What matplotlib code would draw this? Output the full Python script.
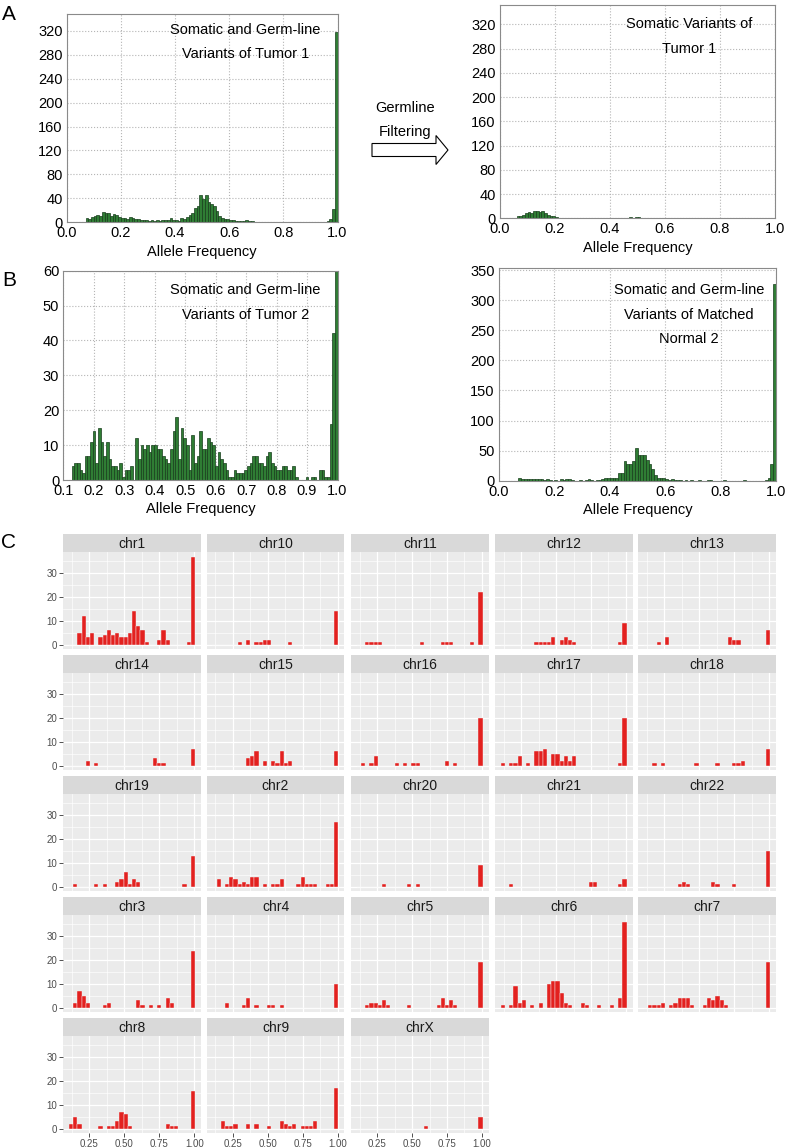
import numpy as np
import matplotlib
matplotlib.use("Agg")
import matplotlib.pyplot as plt
from matplotlib.patches import FancyArrow

plt.rcParams['font.family'] = ['Liberation Sans', 'DejaVu Sans']

# ---- panel A / B : allele frequency histograms (counts per bin) ----
tumor1_all = [0, 0, 0, 0, 0, 0, 0, 8, 6, 9,
              11, 12, 10, 17, 16, 15, 10, 14, 12, 9,
              8, 8, 6, 9, 8, 6, 6, 4, 4, 4,
              3, 4, 3, 4, 2, 4, 4, 4, 8, 4,
              4, 3, 8, 6, 9, 13, 16, 24, 28, 46,
              39, 45, 34, 30, 28, 19, 10, 8, 6, 6,
              4, 4, 3, 3, 2, 3, 4, 3, 2, 1,
              1, 0, 1, 1, 0, 1, 1, 0, 1, 1,
              0, 1, 1, 0, 1, 0, 1, 1, 0, 1,
              0, 1, 0, 1, 1, 1, 2, 5, 22, 318]

tumor1_somatic = [0, 0, 0, 0, 0, 0, 3, 4, 5, 8,
                  10, 8, 12, 12, 10, 12, 8, 5, 4, 3,
                  2, 1, 1, 0, 1, 1, 0, 1, 1, 0,
                  1, 0, 1, 1, 0, 1, 0, 1, 0, 1,
                  1, 0, 1, 0, 1, 0, 1, 2, 1, 2,
                  2, 1, 0, 1, 0, 0, 0, 0, 1, 0,
                  0, 0, 0, 1, 0, 0, 0, 0, 0, 0,
                  1, 0, 0, 0, 0, 0, 1, 0, 0, 0,
                  1, 0, 0, 0, 0, 1, 0, 0, 0, 0,
                  0, 1, 0, 0, 0, 0, 1, 0, 0, 0]

tumor2_all = [4, 5, 5, 3, 2, 7, 7, 11, 14, 5,
              15, 11, 7, 11, 6, 4, 4, 3, 5, 1,
              3, 3, 4, 0, 12, 6, 10, 9, 10, 8,
              10, 10, 9, 9, 7, 6, 5, 9, 14, 18,
              6, 15, 12, 10, 3, 13, 5, 7, 14, 9,
              9, 12, 11, 10, 4, 8, 6, 5, 3, 1,
              1, 3, 2, 2, 2, 3, 4, 5, 7, 7,
              5, 5, 4, 7, 8, 5, 4, 3, 3, 4,
              4, 3, 3, 4, 1, 0, 0, 0, 1, 0,
              1, 1, 0, 3, 3, 1, 1, 16, 42, 75]

normal2_all = [0, 0, 0, 0, 0, 0, 0, 4, 3, 3,
               3, 2, 3, 2, 3, 2, 1, 2, 1, 0,
               1, 0, 2, 1, 3, 2, 1, 0, 0, 1,
               0, 1, 2, 1, 0, 1, 1, 2, 4, 4,
               4, 4, 5, 12, 12, 32, 27, 28, 33, 55,
               43, 43, 43, 34, 28, 20, 9, 5, 4, 4,
               3, 1, 3, 1, 1, 1, 0, 1, 0, 1,
               0, 0, 1, 0, 0, 1, 1, 0, 0, 0,
               0, 1, 0, 0, 0, 0, 0, 0, 1, 0,
               0, 0, 0, 0, 0, 0, 1, 4, 28, 327]

# ---- panel C : somatic allele frequency per chromosome (30 bins) ----
chr1 = [0, 0, 5, 12, 3, 5, 0, 3, 4, 6, 4, 5, 3, 3, 5, 14, 8, 6, 1, 0, 0, 2, 6, 2, 0, 0, 0, 0, 1, 37]
chr10 = [0, 0, 0, 0, 0, 0, 1, 0, 2, 0, 1, 1, 2, 2, 0, 0, 0, 0, 1, 0, 0, 0, 0, 0, 0, 0, 0, 0, 0, 14]
chr11 = [0, 0, 1, 1, 1, 1, 0, 0, 0, 0, 0, 0, 0, 0, 0, 1, 0, 0, 0, 0, 1, 1, 1, 0, 0, 0, 0, 1, 0, 22]
chr12 = [0, 0, 0, 0, 0, 0, 0, 0, 1, 1, 1, 1, 3, 0, 2, 3, 2, 1, 0, 0, 0, 0, 0, 0, 0, 0, 0, 0, 1, 9]
chr13 = [0, 0, 0, 1, 0, 3, 0, 0, 0, 0, 0, 0, 0, 0, 0, 0, 0, 0, 0, 0, 3, 2, 2, 0, 0, 0, 0, 0, 0, 6]
chr14 = [0, 0, 0, 0, 2, 0, 1, 0, 0, 0, 0, 0, 0, 0, 0, 0, 0, 0, 0, 0, 3, 1, 1, 0, 0, 0, 0, 0, 0, 7]
chr15 = [0, 0, 0, 0, 0, 0, 0, 0, 3, 4, 6, 0, 2, 0, 2, 1, 6, 1, 2, 0, 0, 0, 0, 0, 0, 0, 0, 0, 0, 6]
chr16 = [0, 1, 0, 1, 4, 0, 0, 0, 0, 1, 0, 1, 0, 1, 1, 0, 0, 0, 0, 0, 0, 2, 0, 1, 0, 0, 0, 0, 0, 20]
chr17 = [1, 0, 1, 1, 4, 0, 1, 0, 6, 6, 7, 0, 5, 5, 2, 4, 2, 4, 0, 0, 0, 0, 0, 0, 0, 0, 0, 0, 1, 20]
chr18 = [0, 0, 1, 0, 1, 0, 0, 0, 0, 0, 0, 0, 1, 0, 0, 0, 0, 1, 0, 0, 0, 1, 1, 2, 0, 0, 0, 0, 0, 7]
chr19 = [0, 1, 0, 0, 0, 0, 1, 0, 1, 0, 0, 2, 3, 6, 1, 3, 2, 0, 0, 0, 0, 0, 0, 0, 0, 0, 0, 1, 0, 13]
chr2 = [0, 3, 0, 1, 4, 3, 1, 2, 1, 4, 4, 0, 1, 0, 1, 1, 3, 0, 0, 0, 1, 4, 1, 1, 1, 0, 0, 1, 1, 27]
chr20 = [0, 0, 0, 0, 0, 0, 1, 0, 0, 0, 0, 0, 1, 0, 1, 0, 0, 0, 0, 0, 0, 0, 0, 0, 0, 0, 0, 0, 0, 9]
chr21 = [0, 0, 1, 0, 0, 0, 0, 0, 0, 0, 0, 0, 0, 0, 0, 0, 0, 0, 0, 0, 0, 2, 2, 0, 0, 0, 0, 0, 1, 3]
chr22 = [0, 0, 0, 0, 0, 0, 0, 0, 1, 2, 1, 0, 0, 0, 0, 0, 2, 1, 0, 0, 0, 1, 0, 0, 0, 0, 0, 0, 0, 15]
chr3 = [0, 2, 7, 5, 2, 0, 0, 0, 1, 2, 0, 0, 0, 0, 0, 0, 3, 1, 0, 1, 0, 1, 0, 4, 2, 0, 0, 0, 0, 24]
chr4 = [0, 0, 0, 2, 0, 0, 0, 1, 4, 0, 1, 0, 0, 1, 1, 0, 1, 0, 0, 0, 0, 0, 0, 0, 0, 0, 0, 0, 0, 10]
chr5 = [0, 0, 1, 2, 2, 1, 3, 1, 0, 0, 0, 0, 1, 0, 0, 0, 0, 0, 0, 1, 4, 1, 3, 1, 0, 0, 0, 0, 0, 19]
chr6 = [1, 0, 1, 9, 2, 3, 0, 1, 0, 2, 0, 10, 11, 11, 6, 2, 1, 0, 0, 2, 1, 0, 0, 1, 0, 0, 1, 0, 4, 36]
chr7 = [0, 1, 1, 1, 2, 0, 1, 2, 4, 4, 4, 1, 0, 0, 1, 4, 3, 5, 3, 1, 0, 0, 0, 0, 0, 0, 0, 0, 0, 19]
chr8 = [2, 5, 2, 0, 0, 0, 0, 1, 0, 1, 1, 3, 7, 6, 1, 0, 0, 0, 0, 0, 0, 0, 0, 2, 1, 1, 0, 0, 0, 16]
chr9 = [0, 0, 3, 1, 1, 2, 0, 0, 2, 0, 2, 0, 0, 1, 0, 0, 3, 2, 1, 2, 0, 1, 1, 1, 3, 0, 0, 0, 0, 17]
chrX = [0, 0, 0, 0, 0, 0, 0, 0, 0, 0, 0, 0, 0, 0, 0, 0, 1, 0, 0, 0, 0, 0, 0, 0, 0, 0, 0, 0, 0, 5]

chrom_names = ['chr1', 'chr10', 'chr11', 'chr12', 'chr13', 'chr14', 'chr15', 'chr16',
               'chr17', 'chr18', 'chr19', 'chr2', 'chr20', 'chr21', 'chr22', 'chr3',
               'chr4', 'chr5', 'chr6', 'chr7', 'chr8', 'chr9', 'chrX']
chrom_counts = [chr1, chr10, chr11, chr12, chr13, chr14, chr15, chr16,
                chr17, chr18, chr19, chr2, chr20, chr21, chr22, chr3,
                chr4, chr5, chr6, chr7, chr8, chr9, chrX]

W, H = 788, 1148
fig = plt.figure(figsize=(W / 100, H / 100), dpi=100)


def px_axes(left, top, right, bottom):
    # place an axes using pixel box of the 788x1148 canvas
    return fig.add_axes([left / W, 1 - bottom / H, (right - left) / W, (bottom - top) / H])


def green_hist(box, edges, counts, xlim, ylim, xticks, yticks, lines, tx, ty):
    ax = px_axes(*box)
    ax.bar(edges[:-1], counts, width=np.diff(edges), align='edge',
           color='#2f7d34', edgecolor='#173d1b', linewidth=0.5, zorder=2)
    ax.set_xlim(xlim)
    ax.set_ylim(ylim)
    ax.set_xticks(xticks)
    ax.set_yticks(yticks)
    ax.grid(True, linestyle=':', color='#b5b5b5', linewidth=0.8)
    ax.set_axisbelow(True)
    ax.tick_params(length=0, labelsize=10.5, pad=3)
    for s in ax.spines.values():
        s.set_color('#8a8a8a')
    ax.set_xlabel('Allele Frequency', fontsize=10.5, labelpad=3)
    for line, y in zip(lines, ty):
        ax.text(tx, y, line, transform=ax.transAxes, ha='center', va='center', fontsize=10.5)
    return ax


edges01 = np.linspace(0, 1, 101)
edges_t2 = np.linspace(0.127, 1.0, 101)

green_hist((66.7, 14, 337.5, 222.3), edges01, tumor1_all, (0, 1), (0, 348),
           np.arange(0, 1.01, 0.2), range(0, 321, 40),
           ['Somatic and Germ-line', 'Variants of Tumor 1'], 0.66, [0.922, 0.807])
ax = green_hist((500, 5, 775, 218.3), edges01, tumor1_somatic, (0, 1), (0, 352),
                np.arange(0, 1.01, 0.2), range(0, 321, 40),
                ['Somatic Variants of', 'Tumor 1'], 0.687, [0.909, 0.794])
ax = green_hist((63.3, 270.7, 337.5, 480), edges_t2, tumor2_all, (0.1, 1.0), (0, 60),
                np.arange(0.1, 1.01, 0.1), range(0, 61, 10),
                ['Somatic and Germ-line', 'Variants of Tumor 2'], 0.664, [0.908, 0.788])
ax.set_xticklabels(['%.1f' % v for v in np.arange(0.1, 1.01, 0.1)])
green_hist((499, 267.7, 776, 480.7), edges01, normal2_all, (0, 1), (0, 354),
           np.arange(0, 1.01, 0.2), range(0, 351, 50),
           ['Somatic and Germ-line', 'Variants of Matched', 'Normal 2'], 0.685,
           [0.895, 0.778, 0.664])

# ---- panel C facets ----
af_edges = np.linspace(0.105, 1.005, 31)
col_left = [63.3, 206.7, 351, 495, 638.3]
row_top = [534, 655, 776, 897, 1018]
pw, sh, ph = 137.7, 18.3, 96.7

for i, (name, counts) in enumerate(zip(chrom_names, chrom_counts)):
    r, c = divmod(i, 5)
    x0, y0 = col_left[c], row_top[r]
    sax = px_axes(x0, y0, x0 + pw, y0 + sh)
    sax.set_facecolor('#d9d9d9')
    sax.set_xticks([])
    sax.set_yticks([])
    for s in sax.spines.values():
        s.set_visible(False)
    sax.text(0.5, 0.47, name, ha='center', va='center', fontsize=10, color='#1a1a1a',
             transform=sax.transAxes)

    ax = px_axes(x0, y0 + sh, x0 + pw, y0 + sh + ph)
    ax.set_facecolor('#ebebeb')
    ax.bar(af_edges[:-1], counts, width=np.diff(af_edges), align='edge',
           color='#e3211f', edgecolor='#f4f4f4', linewidth=0.3, zorder=3)
    ax.set_xlim(0.064, 1.048)
    ax.set_ylim(-1.85, 38.85)
    ax.set_xticks([0.25, 0.5, 0.75, 1.0])
    ax.set_xticks([0.125, 0.375, 0.625, 0.875], minor=True)
    ax.set_yticks([0, 10, 20, 30])
    ax.set_yticks([5, 15, 25, 35], minor=True)
    ax.grid(True, which='major', color='white', linewidth=0.9, zorder=0)
    ax.grid(True, which='minor', color='white', linewidth=0.45, zorder=0)
    ax.set_axisbelow(True)
    for s in ax.spines.values():
        s.set_visible(False)
    ax.tick_params(which='minor', length=0)
    ax.tick_params(which='major', length=3, width=0.6, color='#333333',
                   labelsize=7, labelcolor='#4d4d4d', pad=1.5)
    if c == 0:
        ax.set_yticklabels(['0', '10', '20', '30'])
    else:
        ax.tick_params(axis='y', length=0, labelleft=False)
    if r == 4:
        ax.set_xticklabels(['0.25', '0.50', '0.75', '1.00'])
    else:
        ax.tick_params(axis='x', length=0, labelbottom=False)

# ---- overlay: panel letters and filtering arrow ----
ov = fig.add_axes([0, 0, 1, 1], zorder=10)
ov.set_xlim(0, W)
ov.set_ylim(H, 0)
ov.axis('off')
ov.patch.set_alpha(0)
for letter, y in [('A', 15), ('B', 280), ('C', 543)]:
    ov.text(9, y, letter, fontsize=15, ha='center', va='center')
ov.text(405, 108, 'Germline', fontsize=10.5, ha='center', va='center')
ov.text(405, 132, 'Filtering', fontsize=10.5, ha='center', va='center')
ov.add_patch(FancyArrow(372, 150, 76, 0, width=13, head_width=29, head_length=12,
                        length_includes_head=True, facecolor='white',
                        edgecolor='black', linewidth=0.8))

fig.savefig('out.png', dpi=100)
